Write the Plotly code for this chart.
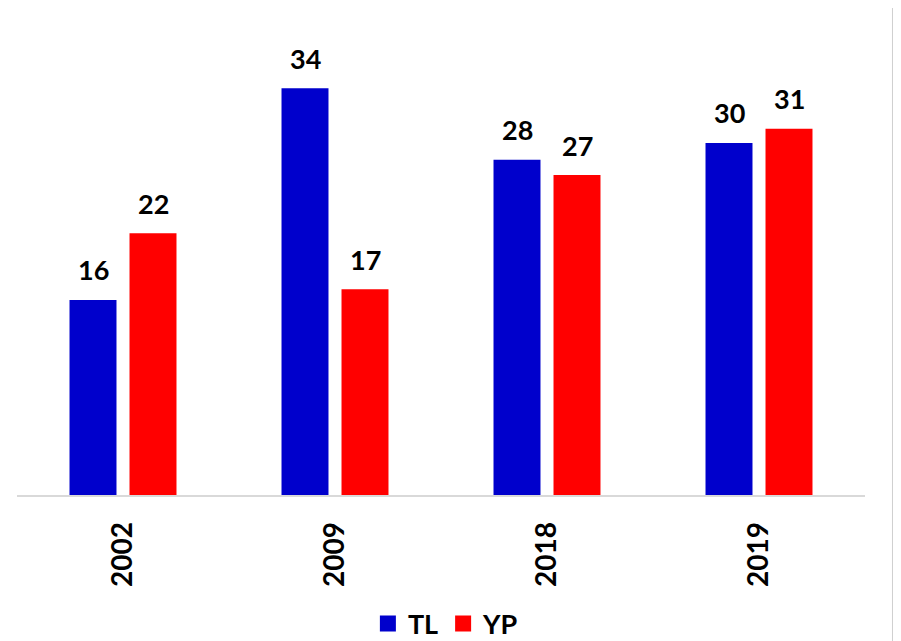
import plotly.graph_objects as go

years = ["2002", "2009", "2018", "2019"]
tl_values = [16.4, 34.2, 28.2, 29.6]
yp_values = [22.0, 17.3, 26.9, 30.8]
series_names = ["TL", "YP"]
series_colors = ["#0000CC", "#FF0000"]

fig = go.Figure()

for name, vals, color in zip(series_names, [tl_values, yp_values], series_colors):
    fig.add_trace(go.Bar(x=years, y=vals, name=name, marker=dict(color=color, line=dict(width=0)),
                         showlegend=False, hoverinfo="skip"))
    # bigger legend squares than the bar default
    fig.add_trace(go.Scatter(x=[years[0]], y=[None], mode="markers", name=name,
                             marker=dict(symbol="square", size=16, color=color)))

# data labels above each bar (category index as x, since year strings look numeric)
for vals, shift in [(tl_values, -30), (yp_values, 30)]:
    for i, v in enumerate(vals):
        fig.add_annotation(x=i, y=v, text=f"{v:.0f}", showarrow=False, xshift=shift, yshift=30,
                           yanchor="middle", font=dict(family="Lato", size=27, color="black", weight="bold"))

# right border of the chart frame
fig.add_shape(type="line", xref="paper", yref="paper", x0=1.033, x1=1.033, y0=-1, y1=2,
              line=dict(color="#d0d0d0", width=2))

fig.update_layout(
    width=901, height=641,
    margin=dict(l=9, r=44, t=22, b=154),
    plot_bgcolor="white", paper_bgcolor="white",
    barmode="group", bargap=0.434, bargroupgap=0.217,
    showlegend=True,
    legend=dict(orientation="h", xref="container", yref="container", x=0.486, xanchor="center",
                y=0.039, yanchor="middle",
                font=dict(family="Lato", size=27, color="black", weight="bold"),
                itemsizing="trace", itemwidth=30, tracegroupgap=0),
    xaxis=dict(type="category", categoryorder="array", categoryarray=years, range=[-0.5, 3.5],
               showline=True, linecolor="#d9d9d9", linewidth=1.5, showgrid=False, ticks="",
               tickangle=-90, tickfont=dict(family="Lato", size=28, color="black", weight="bold"),
               ticklabelstandoff=14),
    yaxis=dict(range=[0, 39.1], showgrid=False, showticklabels=False, zeroline=False, showline=False),
)

fig.write_html("out.html")
